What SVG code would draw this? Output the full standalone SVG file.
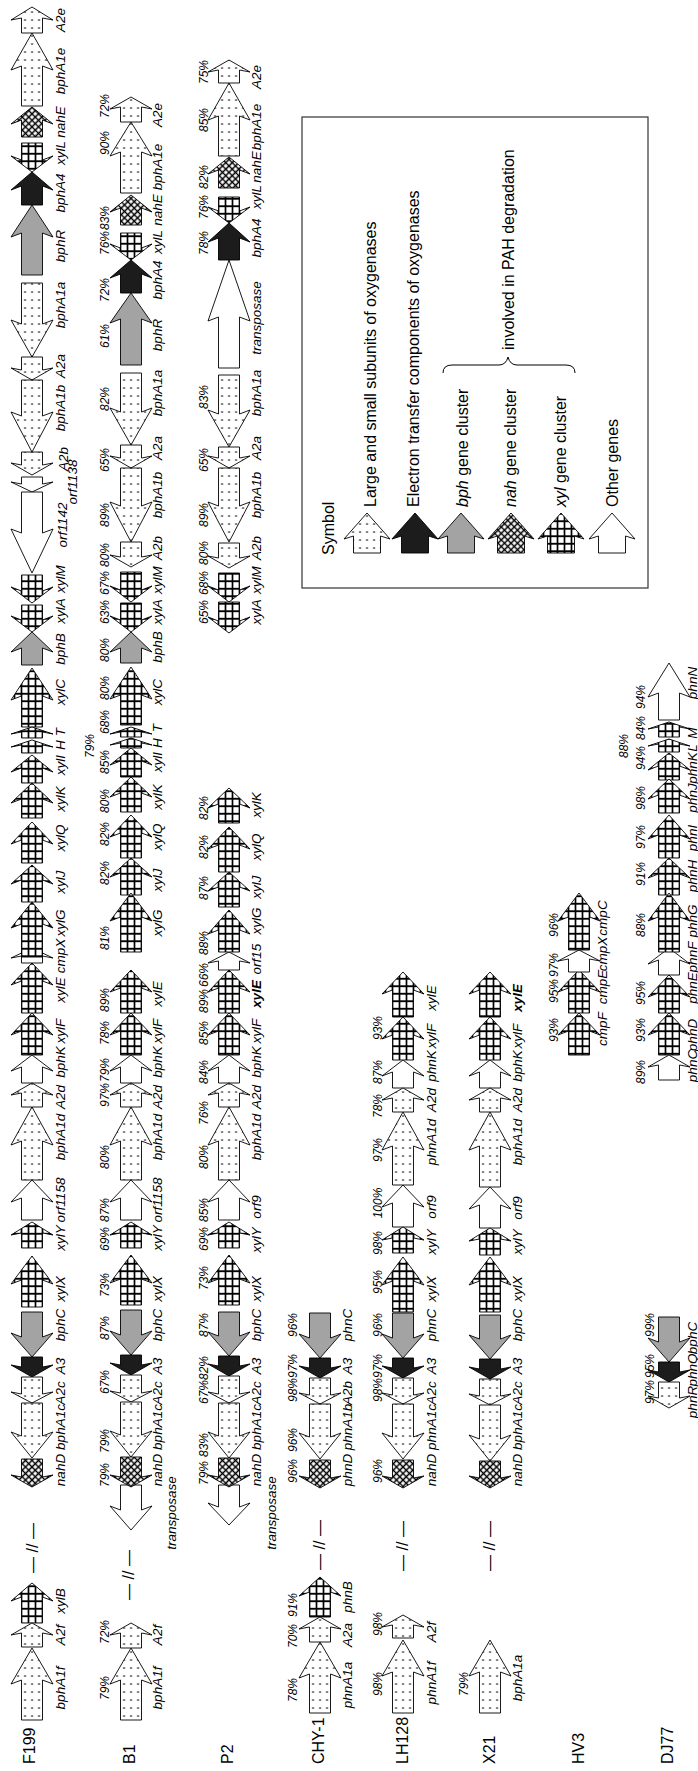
<svg xmlns="http://www.w3.org/2000/svg" width="698" height="1771" viewBox="0 0 698 1771">
<style>
text{font-family:"Liberation Sans",Arial,sans-serif;fill:#000}
.g{font-size:13.5px;font-style:italic;text-anchor:middle}
.b{font-weight:bold}
.p{font-size:12px;font-style:italic;text-anchor:middle}
.s{font-size:16px}
.l{font-size:16px}
.br{font-size:16px;text-anchor:middle}
path.d,path.x,path.n,path.r,path.k,path.w{stroke:#000;stroke-width:0.9;stroke-linejoin:miter}
.d{fill:url(#dots)}.x{fill:url(#grid)}.n{fill:url(#hatch)}.r{fill:#a3a3a3}.k{fill:#1c1c1c}.w{fill:#fff}
</style>
<defs>
<pattern id="dots" patternUnits="userSpaceOnUse" x="-3.5" y="0" width="7" height="8"><rect width="7" height="8" fill="#fff"/><rect x="2.8" y="3.3" width="1.5" height="1.5" fill="#000"/></pattern>
<pattern id="grid" patternUnits="userSpaceOnUse" x="-7" y="0" width="7" height="7.5"><rect width="7" height="7.5" fill="#fff"/><path d="M3.5 0V7.5M0 3.75H7" stroke="#000" stroke-width="1.7"/></pattern>
<pattern id="hatch" patternUnits="userSpaceOnUse" width="4.6" height="4.6" patternTransform="rotate(45)"><rect width="4.6" height="4.6" fill="#fff"/><path d="M2.3 0V4.6M0 2.3H4.6" stroke="#000" stroke-width="1.5"/></pattern>
</defs>
<rect width="698" height="1771" fill="#fff"/>

<g id="F199">
<g transform="translate(32,0)">
<path class="d" d="M-10.5 33V18l-10.5 2L0 7l21 13l-10.5-2V33z"/>
<path class="d" d="M-10.5 106V66l-10.5 4L0 33l21 37l-10.5-4V106z"/>
<path class="n" d="M-10.5 137V120l-10.5 4L0 107l21 17l-10.5-4V137z"/>
<path class="x" d="M-10.5 143V160l-10.5-4L0 172l21-16l-10.5 4V143z"/>
<path class="k" d="M-10.5 205V186l-10.5 4L0 172l21 18l-10.5-4V205z"/>
<path class="r" d="M-10.5 275V233l-10.5 4L0 205l21 32l-10.5-4V275z"/>
<path class="d" d="M-10.5 283V324l-10.5-4L0 357l21-37l-10.5 4V283z"/>
<path class="d" d="M-10.5 357V370l-10.5-2L0 380l21-12l-10.5 2V357z"/>
<path class="d" d="M-10.5 380V416l-10.5-4L0 452l21-40l-10.5 4V380z"/>
<path class="d" d="M-10.5 452V465l-10.5-2L0 475l21-12l-10.5 2V452z"/>
<path class="w" d="M-10.5 477V484l-10.5-2L0 492l21-10l-10.5 2V477z"/>
<path class="w" d="M-10.5 492V533l-10.5-4L0 573l21-44l-10.5 4V492z"/>
<path class="x" d="M-10.5 575V591l-10.5-4L0 603l21-16l-10.5 4V575z"/>
<path class="x" d="M-10.5 605V620l-10.5-4L0 632l21-16l-10.5 4V605z"/>
<path class="r" d="M-10.5 665V648l-10.5 4L0 632l21 20l-10.5-4V665z"/>
<path class="x" d="M-10.5 727V696l-10.5 4L0 668l21 32l-10.5-4V727z"/>
<path class="x" d="M-10.5 738V732l-10.5 2L0 727l21 7l-10.5-2V738z"/>
<path class="x" d="M-10.5 753V745l-10.5 2L0 740l21 7l-10.5-2V753z"/>
<path class="x" d="M-10.5 783V768l-10.5 4L0 755l21 17l-10.5-4V783z"/>
<path class="x" d="M-10.5 818V799l-10.5 4L0 783l21 20l-10.5-4V818z"/>
<path class="x" d="M-10.5 863V840l-10.5 4L0 822l21 22l-10.5-4V863z"/>
<path class="x" d="M-10.5 902V880l-10.5 4L0 865l21 19l-10.5-4V902z"/>
<path class="w" d="M-10.5 963V956l-10.5 2L0 948l21 10l-10.5-2V963z"/>
<path class="x" d="M-10.5 957V924l-10.5 4L0 902l21 26l-10.5-4V957z"/>
<path class="x" d="M-10.5 1013V981l-10.5 4L0 963l21 22l-10.5-4V1013z"/>
<path class="x" d="M-10.5 1055V1031l-10.5 4L0 1013l21 22l-10.5-4V1055z"/>
<path class="w" d="M-10.5 1083V1067l-10.5 4L0 1055l21 16l-10.5-4V1083z"/>
<path class="d" d="M-10.5 1107V1093l-10.5 2L0 1083l21 12l-10.5-2V1107z"/>
<path class="d" d="M-10.5 1180V1141l-10.5 4L0 1107l21 38l-10.5-4V1180z"/>
<path class="w" d="M-10.5 1220V1198l-10.5 4L0 1180l21 22l-10.5-4V1220z"/>
<path class="x" d="M-10.5 1248V1233l-10.5 2L0 1222l21 13l-10.5-2V1248z"/>
<path class="x" d="M-10.5 1307V1280l-10.5 4L0 1256l21 28l-10.5-4V1307z"/>
<path class="r" d="M-10.5 1312V1337l-10.5-4L0 1357l21-24l-10.5 4V1312z"/>
<path class="k" d="M-10.5 1357V1367l-10.5-2L0 1377l21-12l-10.5 2V1357z"/>
<path class="d" d="M-10.5 1377V1394l-10.5-2L0 1403l21-11l-10.5 2V1377z"/>
<path class="d" d="M-10.5 1403V1436l-10.5-4L0 1458l21-26l-10.5 4V1403z"/>
<path class="n" d="M-10.5 1459V1477l-10.5-2L0 1487l21-12l-10.5 2V1459z"/>
<path class="x" d="M-10.5 1623V1597l-10.5 4L0 1583l21 18l-10.5-4V1623z"/>
<path class="d" d="M-10.5 1647V1633l-10.5 2L0 1623l21 12l-10.5-2V1647z"/>
<path class="d" d="M-10.5 1720V1680l-10.5 4L0 1648l21 36l-10.5-4V1720z"/>
</g>
<g transform="rotate(-90)">
<text class="s" x="-1764" y="34.7">F199</text>
<text class="br" x="-1548" y="38">— // —</text>
<text class="g" x="-20" y="64.7">A2e</text>
<text class="g" x="-71" y="64.7">bphA1e</text>
<text class="g" x="-122" y="64.7">nahE</text>
<text class="g" x="-153" y="64.7">xylL</text>
<text class="g" x="-193" y="64.7">bphA4</text>
<text class="g" x="-246" y="64.7">bphR</text>
<text class="g" x="-305" y="64.7">bphA1a</text>
<text class="g" x="-366" y="64.7">A2a</text>
<text class="g" x="-408" y="64.7">bphA1b</text>
<text class="g" x="-459" y="67.7">A2b</text>
<text class="g" x="-482" y="76.7">orf1138</text>
<text class="g" x="-525" y="66.7">orf1142</text>
<text class="g" x="-579" y="64.7">xylM</text>
<text class="g" x="-611" y="64.7">xylA</text>
<text class="g" x="-649" y="64.7">bphB</text>
<text class="g" x="-692" y="64.7">xylC</text>
<text class="g" x="-732" y="64.7">T</text>
<text class="g" x="-745" y="64.7">H</text>
<text class="g" x="-765" y="64.7">xylI</text>
<text class="g" x="-799" y="64.7">xylK</text>
<text class="g" x="-838" y="64.7">xylQ</text>
<text class="g" x="-882" y="64.7">xylJ</text>
<text class="g" x="-923" y="64.7">xylG</text>
<text class="g" x="-956" y="64.7">cmpX</text>
<text class="g" x="-990" y="64.7">xylE</text>
<text class="g" x="-1031" y="64.7">xylF</text>
<text class="g" x="-1062" y="64.7">bphK</text>
<text class="g" x="-1097" y="64.7">A2d</text>
<text class="g" x="-1137" y="64.7">bphA1d</text>
<text class="g" x="-1200" y="64.7">orf1158</text>
<text class="g" x="-1238" y="64.7">xylY</text>
<text class="g" x="-1289" y="64.7">xylX</text>
<text class="g" x="-1325" y="64.7">bphC</text>
<text class="g" x="-1366" y="64.7">A3</text>
<text class="g" x="-1393" y="64.7">A2c</text>
<text class="g" x="-1427" y="64.7">bphA1c</text>
<text class="g" x="-1470" y="64.7">nahD</text>
<text class="g" x="-1601" y="64.7">xylB</text>
<text class="g" x="-1635" y="64.7">A2f</text>
<text class="g" x="-1688" y="64.7">bphA1f</text>
</g>
</g>

<g id="B1">
<g transform="translate(131,0)">
<path class="d" d="M-10.5 122V107l-10.5 2L0 97l21 12l-10.5-2V122z"/>
<path class="d" d="M-10.5 193V152l-10.5 4L0 122l21 34l-10.5-4V193z"/>
<path class="n" d="M-10.5 225V208l-10.5 4L0 195l21 17l-10.5-4V225z"/>
<path class="x" d="M-10.5 233V248l-10.5-4L0 260l21-16l-10.5 4V233z"/>
<path class="k" d="M-10.5 293V274l-10.5 4L0 260l21 18l-10.5-4V293z"/>
<path class="r" d="M-10.5 365V319l-10.5 4L0 293l21 30l-10.5-4V365z"/>
<path class="d" d="M-10.5 373V412l-10.5-4L0 445l21-37l-10.5 4V373z"/>
<path class="d" d="M-10.5 445V458l-10.5-2L0 468l21-12l-10.5 2V445z"/>
<path class="d" d="M-10.5 468V506l-10.5-4L0 542l21-40l-10.5 4V468z"/>
<path class="d" d="M-10.5 542V557l-10.5-2L0 567l21-12l-10.5 2V542z"/>
<path class="x" d="M-10.5 572V590l-10.5-4L0 602l21-16l-10.5 4V572z"/>
<path class="x" d="M-10.5 603V620l-10.5-4L0 632l21-16l-10.5 4V603z"/>
<path class="r" d="M-10.5 663V648l-10.5 4L0 632l21 20l-10.5-4V663z"/>
<path class="x" d="M-10.5 725V695l-10.5 4L0 667l21 32l-10.5-4V725z"/>
<path class="x" d="M-10.5 737V732l-10.5 2L0 727l21 7l-10.5-2V737z"/>
<path class="x" d="M-10.5 748V743l-10.5 2L0 738l21 7l-10.5-2V748z"/>
<path class="x" d="M-10.5 777V761l-10.5 4L0 748l21 17l-10.5-4V777z"/>
<path class="x" d="M-10.5 812V793l-10.5 4L0 777l21 20l-10.5-4V812z"/>
<path class="x" d="M-10.5 858V833l-10.5 4L0 815l21 22l-10.5-4V858z"/>
<path class="x" d="M-10.5 895V873l-10.5 4L0 858l21 19l-10.5-4V895z"/>
<path class="x" d="M-10.5 952V917l-10.5 4L0 893l21 28l-10.5-4V952z"/>
<path class="x" d="M-10.5 1013V988l-10.5 4L0 970l21 22l-10.5-4V1013z"/>
<path class="x" d="M-10.5 1055V1031l-10.5 4L0 1013l21 22l-10.5-4V1055z"/>
<path class="w" d="M-10.5 1083V1067l-10.5 4L0 1055l21 16l-10.5-4V1083z"/>
<path class="d" d="M-10.5 1107V1093l-10.5 2L0 1083l21 12l-10.5-2V1107z"/>
<path class="d" d="M-10.5 1180V1141l-10.5 4L0 1107l21 38l-10.5-4V1180z"/>
<path class="w" d="M-10.5 1220V1198l-10.5 4L0 1180l21 22l-10.5-4V1220z"/>
<path class="x" d="M-10.5 1248V1233l-10.5 2L0 1222l21 13l-10.5-2V1248z"/>
<path class="x" d="M-10.5 1305V1279l-10.5 4L0 1255l21 28l-10.5-4V1305z"/>
<path class="r" d="M-10.5 1310V1335l-10.5-4L0 1355l21-24l-10.5 4V1310z"/>
<path class="k" d="M-10.5 1355V1365l-10.5-2L0 1375l21-12l-10.5 2V1355z"/>
<path class="d" d="M-10.5 1375V1393l-10.5-2L0 1402l21-11l-10.5 2V1375z"/>
<path class="d" d="M-10.5 1402V1435l-10.5-4L0 1457l21-26l-10.5 4V1402z"/>
<path class="w" d="M-10.5 1485V1510l-10.5-4L0 1530l21-24l-10.5 4V1485z"/>
<path class="n" d="M-10.5 1457V1477l-10.5-2L0 1487l21-12l-10.5 2V1457z"/>
<path class="d" d="M-10.5 1648V1633l-10.5 2L0 1623l21 12l-10.5-2V1648z"/>
<path class="d" d="M-10.5 1720V1680l-10.5 4L0 1648l21 36l-10.5-4V1720z"/>
</g>
<g transform="rotate(-90)">
<text class="s" x="-1764" y="134.7">B1</text>
<text class="br" x="-1575" y="134">— // —</text>
<text class="g" x="-115" y="161.7">A2e</text>
<text class="g" x="-167" y="161.7">bphA1e</text>
<text class="g" x="-210" y="161.7">nahE</text>
<text class="g" x="-242" y="161.7">xylL</text>
<text class="g" x="-280" y="161.7">bphA4</text>
<text class="g" x="-335" y="161.7">bphR</text>
<text class="g" x="-393" y="161.7">bphA1a</text>
<text class="g" x="-448" y="161.7">A2a</text>
<text class="g" x="-495" y="161.7">bphA1b</text>
<text class="g" x="-548" y="161.7">A2b</text>
<text class="g" x="-580" y="161.7">xylM</text>
<text class="g" x="-612" y="161.7">xylA</text>
<text class="g" x="-647" y="161.7">bphB</text>
<text class="g" x="-692" y="161.7">xylC</text>
<text class="g" x="-728" y="161.7">T</text>
<text class="g" x="-743" y="161.7">H</text>
<text class="g" x="-762" y="161.7">xylI</text>
<text class="g" x="-797" y="161.7">xylK</text>
<text class="g" x="-837" y="161.7">xylQ</text>
<text class="g" x="-880" y="161.7">xylJ</text>
<text class="g" x="-923" y="161.7">xylG</text>
<text class="g" x="-994" y="161.7">xylE</text>
<text class="g" x="-1031" y="161.7">xylF</text>
<text class="g" x="-1062" y="161.7">bphK</text>
<text class="g" x="-1097" y="161.7">A2d</text>
<text class="g" x="-1137" y="161.7">bphA1d</text>
<text class="g" x="-1200" y="161.7">orf1158</text>
<text class="g" x="-1238" y="161.7">xylY</text>
<text class="g" x="-1289" y="161.7">xylX</text>
<text class="g" x="-1325" y="161.7">bphC</text>
<text class="g" x="-1366" y="161.7">A3</text>
<text class="g" x="-1393" y="161.7">A2c</text>
<text class="g" x="-1427" y="161.7">bphA1c</text>
<text class="g" x="-1470" y="161.7">nahD</text>
<text class="g" x="-1513" y="175.7">transposase</text>
<text class="g" x="-1635" y="161.7">A2f</text>
<text class="g" x="-1688" y="161.7">bphA1f</text>
<text class="p" x="-106" y="109.3">72%</text>
<text class="p" x="-143" y="109.3">90%</text>
<text class="p" x="-218" y="109.3">83%</text>
<text class="p" x="-243" y="109.3">76%</text>
<text class="p" x="-290" y="109.3">72%</text>
<text class="p" x="-336" y="109.3">61%</text>
<text class="p" x="-399" y="109.3">82%</text>
<text class="p" x="-460" y="109.3">65%</text>
<text class="p" x="-515" y="109.3">89%</text>
<text class="p" x="-555" y="109.3">80%</text>
<text class="p" x="-583" y="109.3">67%</text>
<text class="p" x="-612" y="109.3">63%</text>
<text class="p" x="-650" y="109.3">80%</text>
<text class="p" x="-688" y="109.3">80%</text>
<text class="p" x="-722" y="109.3">68%</text>
<text class="p" x="-746" y="94.3">79%</text>
<text class="p" x="-762" y="109.3">85%</text>
<text class="p" x="-801" y="109.3">80%</text>
<text class="p" x="-834" y="109.3">82%</text>
<text class="p" x="-873" y="109.3">82%</text>
<text class="p" x="-938" y="109.3">81%</text>
<text class="p" x="-1000" y="109.3">89%</text>
<text class="p" x="-1033" y="109.3">78%</text>
<text class="p" x="-1070" y="109.3">79%</text>
<text class="p" x="-1095" y="109.3">97%</text>
<text class="p" x="-1157" y="109.3">80%</text>
<text class="p" x="-1210" y="109.3">87%</text>
<text class="p" x="-1239" y="109.3">69%</text>
<text class="p" x="-1285" y="109.3">73%</text>
<text class="p" x="-1328" y="109.3">87%</text>
<text class="p" x="-1382" y="109.3">67%</text>
<text class="p" x="-1441" y="109.3">79%</text>
<text class="p" x="-1475" y="109.3">79%</text>
<text class="p" x="-1632" y="109.3">72%</text>
<text class="p" x="-1688" y="109.3">79%</text>
</g>
</g>

<g id="P2">
<g transform="translate(229,0)">
<path class="d" d="M-10.5 83V70l-10.5 2L0 60l21 12l-10.5-2V83z"/>
<path class="d" d="M-10.5 156V116l-10.5 4L0 83l21 37l-10.5-4V156z"/>
<path class="n" d="M-10.5 188V170l-10.5 4L0 157l21 17l-10.5-4V188z"/>
<path class="x" d="M-10.5 197V211l-10.5-4L0 223l21-16l-10.5 4V197z"/>
<path class="k" d="M-10.5 260V238l-10.5 4L0 223l21 19l-10.5-4V260z"/>
<path class="w" d="M-10.5 368V317l-10.5 4L0 260l21 61l-10.5-4V368z"/>
<path class="d" d="M-10.5 375V414l-10.5-4L0 447l21-37l-10.5 4V375z"/>
<path class="d" d="M-10.5 447V458l-10.5-2L0 468l21-12l-10.5 2V447z"/>
<path class="d" d="M-10.5 468V506l-10.5-4L0 542l21-40l-10.5 4V468z"/>
<path class="d" d="M-10.5 543V558l-10.5-2L0 568l21-12l-10.5 2V543z"/>
<path class="x" d="M-10.5 573V590l-10.5-4L0 602l21-16l-10.5 4V573z"/>
<path class="x" d="M-10.5 602V621l-10.5-4L0 633l21-16l-10.5 4V602z"/>
<path class="x" d="M-10.5 823V804l-10.5 4L0 788l21 20l-10.5-4V823z"/>
<path class="x" d="M-10.5 872V845l-10.5 4L0 827l21 22l-10.5-4V872z"/>
<path class="x" d="M-10.5 907V887l-10.5 4L0 872l21 19l-10.5-4V907z"/>
<path class="w" d="M-10.5 970V961l-10.5 2L0 952l21 11l-10.5-2V970z"/>
<path class="x" d="M-10.5 952V930l-10.5 4L0 910l21 24l-10.5-4V952z"/>
<path class="x" d="M-10.5 1013V988l-10.5 4L0 970l21 22l-10.5-4V1013z"/>
<path class="x" d="M-10.5 1055V1031l-10.5 4L0 1013l21 22l-10.5-4V1055z"/>
<path class="w" d="M-10.5 1083V1067l-10.5 4L0 1055l21 16l-10.5-4V1083z"/>
<path class="d" d="M-10.5 1107V1093l-10.5 2L0 1083l21 12l-10.5-2V1107z"/>
<path class="d" d="M-10.5 1180V1141l-10.5 4L0 1107l21 38l-10.5-4V1180z"/>
<path class="w" d="M-10.5 1220V1198l-10.5 4L0 1180l21 22l-10.5-4V1220z"/>
<path class="x" d="M-10.5 1248V1233l-10.5 2L0 1222l21 13l-10.5-2V1248z"/>
<path class="x" d="M-10.5 1305V1279l-10.5 4L0 1255l21 28l-10.5-4V1305z"/>
<path class="r" d="M-10.5 1312V1336l-10.5-4L0 1356l21-24l-10.5 4V1312z"/>
<path class="k" d="M-10.5 1356V1366l-10.5-2L0 1376l21-12l-10.5 2V1356z"/>
<path class="d" d="M-10.5 1376V1394l-10.5-2L0 1403l21-11l-10.5 2V1376z"/>
<path class="d" d="M-10.5 1403V1436l-10.5-4L0 1458l21-26l-10.5 4V1403z"/>
<path class="w" d="M-10.5 1485V1507l-10.5-4L0 1525l21-22l-10.5 4V1485z"/>
<path class="n" d="M-10.5 1458V1477l-10.5-2L0 1487l21-12l-10.5 2V1458z"/>
</g>
<g transform="rotate(-90)">
<text class="s" x="-1764" y="232.7">P2</text>
<text class="g" x="-77" y="260.7">A2e</text>
<text class="g" x="-127" y="260.7">bphA1e</text>
<text class="g" x="-167" y="260.7">nahE</text>
<text class="g" x="-197" y="260.7">xylL</text>
<text class="g" x="-238" y="260.7">bphA4</text>
<text class="g" x="-318" y="260.7">transposase</text>
<text class="g" x="-393" y="260.7">bphA1a</text>
<text class="g" x="-448" y="260.7">A2a</text>
<text class="g" x="-495" y="260.7">bphA1b</text>
<text class="g" x="-548" y="260.7">A2b</text>
<text class="g" x="-580" y="260.7">xylM</text>
<text class="g" x="-612" y="260.7">xylA</text>
<text class="g" x="-805" y="260.7">xylK</text>
<text class="g" x="-847" y="260.7">xylQ</text>
<text class="g" x="-887" y="260.7">xylJ</text>
<text class="g" x="-921" y="260.7">xylG</text>
<text class="g" x="-959" y="260.7">orf15</text>
<text class="g b" x="-994" y="260.7">xylE</text>
<text class="g" x="-1031" y="260.7">xylF</text>
<text class="g" x="-1062" y="260.7">bphK</text>
<text class="g" x="-1097" y="260.7">A2d</text>
<text class="g" x="-1137" y="260.7">bphA1d</text>
<text class="g" x="-1207" y="260.7">orf9</text>
<text class="g" x="-1240" y="260.7">xylY</text>
<text class="g" x="-1289" y="260.7">xylX</text>
<text class="g" x="-1325" y="260.7">bphC</text>
<text class="g" x="-1366" y="260.7">A3</text>
<text class="g" x="-1393" y="260.7">A2c</text>
<text class="g" x="-1427" y="260.7">bphA1c</text>
<text class="g" x="-1470" y="260.7">nahD</text>
<text class="g" x="-1513" y="275.7">transposase</text>
<text class="p" x="-72" y="208.3">75%</text>
<text class="p" x="-120" y="208.3">85%</text>
<text class="p" x="-177" y="208.3">82%</text>
<text class="p" x="-207" y="208.3">76%</text>
<text class="p" x="-243" y="208.3">78%</text>
<text class="p" x="-397" y="208.3">83%</text>
<text class="p" x="-460" y="208.3">65%</text>
<text class="p" x="-515" y="208.3">89%</text>
<text class="p" x="-553" y="208.3">80%</text>
<text class="p" x="-583" y="208.3">68%</text>
<text class="p" x="-612" y="208.3">65%</text>
<text class="p" x="-808" y="208.3">82%</text>
<text class="p" x="-847" y="208.3">82%</text>
<text class="p" x="-888" y="208.3">87%</text>
<text class="p" x="-943" y="208.3">88%</text>
<text class="p" x="-975" y="208.3">66%</text>
<text class="p" x="-1001" y="208.3">89%</text>
<text class="p" x="-1033" y="208.3">85%</text>
<text class="p" x="-1072" y="208.3">84%</text>
<text class="p" x="-1113" y="208.3">76%</text>
<text class="p" x="-1157" y="208.3">80%</text>
<text class="p" x="-1210" y="208.3">85%</text>
<text class="p" x="-1239" y="208.3">69%</text>
<text class="p" x="-1278" y="208.3">73%</text>
<text class="p" x="-1325" y="208.3">87%</text>
<text class="p" x="-1368" y="208.3">82%</text>
<text class="p" x="-1392" y="208.3">67%</text>
<text class="p" x="-1445" y="208.3">83%</text>
<text class="p" x="-1473" y="208.3">79%</text>
</g>
</g>

<g id="CHY-1">
<g transform="translate(320,0)">
<path class="r" d="M-10.5 1313V1338l-10.5-4L0 1358l21-24l-10.5 4V1313z"/>
<path class="k" d="M-10.5 1358V1368l-10.5-2L0 1378l21-12l-10.5 2V1358z"/>
<path class="d" d="M-10.5 1378V1395l-10.5-2L0 1404l21-11l-10.5 2V1378z"/>
<path class="d" d="M-10.5 1404V1437l-10.5-4L0 1459l21-26l-10.5 4V1404z"/>
<path class="n" d="M-10.5 1460V1478l-10.5-2L0 1488l21-12l-10.5 2V1460z"/>
<path class="x" d="M-10.5 1617V1592l-10.5 4L0 1577l21 19l-10.5-4V1617z"/>
<path class="d" d="M-10.5 1642V1627l-10.5 2L0 1617l21 12l-10.5-2V1642z"/>
<path class="d" d="M-10.5 1713V1674l-10.5 4L0 1642l21 36l-10.5-4V1713z"/>
</g>
<g transform="rotate(-90)">
<text class="s" x="-1764" y="323.7">CHY-1</text>
<text class="br" x="-1545" y="325">— // —</text>
<text class="g" x="-1325" y="351.7">phnC</text>
<text class="g" x="-1366" y="351.7">A3</text>
<text class="g" x="-1393" y="351.7">A2b</text>
<text class="g" x="-1427" y="351.7">phnA1b</text>
<text class="g" x="-1470" y="351.7">phnD</text>
<text class="g" x="-1597" y="351.7">phnB</text>
<text class="g" x="-1635" y="351.7">A2a</text>
<text class="g" x="-1685" y="351.7">phnA1a</text>
<text class="p" x="-1325" y="297.3">96%</text>
<text class="p" x="-1366" y="297.3">97%</text>
<text class="p" x="-1390" y="297.3">98%</text>
<text class="p" x="-1440" y="297.3">96%</text>
<text class="p" x="-1471" y="297.3">96%</text>
<text class="p" x="-1605" y="297.3">91%</text>
<text class="p" x="-1636" y="297.3">70%</text>
<text class="p" x="-1690" y="297.3">78%</text>
</g>
</g>

<g id="LH128">
<g transform="translate(403,0)">
<path class="x" d="M-10.5 1017V990l-10.5 4L0 972l21 22l-10.5-4V1017z"/>
<path class="x" d="M-10.5 1060V1035l-10.5 4L0 1017l21 22l-10.5-4V1060z"/>
<path class="w" d="M-10.5 1088V1072l-10.5 4L0 1060l21 16l-10.5-4V1088z"/>
<path class="d" d="M-10.5 1112V1098l-10.5 2L0 1088l21 12l-10.5-2V1112z"/>
<path class="d" d="M-10.5 1185V1146l-10.5 4L0 1112l21 38l-10.5-4V1185z"/>
<path class="w" d="M-10.5 1227V1203l-10.5 4L0 1185l21 22l-10.5-4V1227z"/>
<path class="x" d="M-10.5 1253V1238l-10.5 2L0 1227l21 13l-10.5-2V1253z"/>
<path class="x" d="M-10.5 1312V1281l-10.5 4L0 1257l21 28l-10.5-4V1312z"/>
<path class="r" d="M-10.5 1313V1338l-10.5-4L0 1358l21-24l-10.5 4V1313z"/>
<path class="k" d="M-10.5 1358V1368l-10.5-2L0 1378l21-12l-10.5 2V1358z"/>
<path class="d" d="M-10.5 1378V1395l-10.5-2L0 1404l21-11l-10.5 2V1378z"/>
<path class="d" d="M-10.5 1404V1437l-10.5-4L0 1459l21-26l-10.5 4V1404z"/>
<path class="n" d="M-10.5 1460V1478l-10.5-2L0 1488l21-12l-10.5 2V1460z"/>
<path class="d" d="M-10.5 1638V1625l-10.5 2L0 1615l21 12l-10.5-2V1638z"/>
<path class="d" d="M-10.5 1713V1672l-10.5 4L0 1640l21 36l-10.5-4V1713z"/>
</g>
<g transform="rotate(-90)">
<text class="s" x="-1764" y="407.7">LH128</text>
<text class="br" x="-1546" y="408">— // —</text>
<text class="g" x="-998" y="435.7">xylE</text>
<text class="g" x="-1036" y="435.7">xylF</text>
<text class="g" x="-1066" y="435.7">phnK</text>
<text class="g" x="-1100" y="435.7">A2d</text>
<text class="g" x="-1142" y="435.7">phnA1d</text>
<text class="g" x="-1207" y="435.7">orf9</text>
<text class="g" x="-1242" y="435.7">xylY</text>
<text class="g" x="-1289" y="435.7">xylX</text>
<text class="g" x="-1325" y="435.7">phnC</text>
<text class="g" x="-1366" y="435.7">A3</text>
<text class="g" x="-1393" y="435.7">A2c</text>
<text class="g" x="-1427" y="435.7">phnA1c</text>
<text class="g" x="-1470" y="435.7">nahD</text>
<text class="g" x="-1632" y="435.7">A2f</text>
<text class="g" x="-1683" y="435.7">phnA1f</text>
<text class="p" x="-1028" y="382.3">93%</text>
<text class="p" x="-1072" y="382.3">87%</text>
<text class="p" x="-1106" y="382.3">78%</text>
<text class="p" x="-1150" y="382.3">97%</text>
<text class="p" x="-1203" y="382.3">100%</text>
<text class="p" x="-1243" y="382.3">98%</text>
<text class="p" x="-1282" y="382.3">95%</text>
<text class="p" x="-1325" y="382.3">96%</text>
<text class="p" x="-1366" y="382.3">97%</text>
<text class="p" x="-1390" y="382.3">98%</text>
<text class="p" x="-1471" y="382.3">96%</text>
<text class="p" x="-1624" y="382.3">98%</text>
<text class="p" x="-1684" y="382.3">98%</text>
</g>
</g>

<g id="X21">
<g transform="translate(490,0)">
<path class="x" d="M-10.5 1017V990l-10.5 4L0 972l21 22l-10.5-4V1017z"/>
<path class="x" d="M-10.5 1060V1035l-10.5 4L0 1017l21 22l-10.5-4V1060z"/>
<path class="w" d="M-10.5 1088V1072l-10.5 4L0 1060l21 16l-10.5-4V1088z"/>
<path class="d" d="M-10.5 1112V1098l-10.5 2L0 1088l21 12l-10.5-2V1112z"/>
<path class="d" d="M-10.5 1187V1146l-10.5 4L0 1112l21 38l-10.5-4V1187z"/>
<path class="w" d="M-10.5 1228V1205l-10.5 4L0 1187l21 22l-10.5-4V1228z"/>
<path class="x" d="M-10.5 1255V1239l-10.5 2L0 1228l21 13l-10.5-2V1255z"/>
<path class="x" d="M-10.5 1312V1281l-10.5 4L0 1257l21 28l-10.5-4V1312z"/>
<path class="r" d="M-10.5 1315V1339l-10.5-4L0 1359l21-24l-10.5 4V1315z"/>
<path class="k" d="M-10.5 1359V1369l-10.5-2L0 1379l21-12l-10.5 2V1359z"/>
<path class="d" d="M-10.5 1379V1396l-10.5-2L0 1405l21-11l-10.5 2V1379z"/>
<path class="d" d="M-10.5 1405V1439l-10.5-4L0 1461l21-26l-10.5 4V1405z"/>
<path class="n" d="M-10.5 1461V1478l-10.5-2L0 1488l21-12l-10.5 2V1461z"/>
<path class="d" d="M-10.5 1713V1672l-10.5 4L0 1640l21 36l-10.5-4V1713z"/>
</g>
<g transform="rotate(-90)">
<text class="s" x="-1764" y="494.7">X21</text>
<text class="br" x="-1546" y="495">— // —</text>
<text class="g b" x="-998" y="521.7">xylE</text>
<text class="g" x="-1036" y="521.7">xylF</text>
<text class="g" x="-1066" y="521.7">bphK</text>
<text class="g" x="-1100" y="521.7">A2d</text>
<text class="g" x="-1142" y="521.7">bphA1d</text>
<text class="g" x="-1208" y="521.7">orf9</text>
<text class="g" x="-1242" y="521.7">xylY</text>
<text class="g" x="-1289" y="521.7">xylX</text>
<text class="g" x="-1325" y="521.7">bphC</text>
<text class="g" x="-1366" y="521.7">A3</text>
<text class="g" x="-1393" y="521.7">A2c</text>
<text class="g" x="-1427" y="521.7">bphA1c</text>
<text class="g" x="-1470" y="521.7">nahD</text>
<text class="g" x="-1678" y="521.7">bphA1a</text>
<text class="p" x="-1684" y="468.3">79%</text>
</g>
</g>

<g id="HV3">
<g transform="translate(579,0)">
<path class="x" d="M-10.5 1013V988l-10.5 4L0 970l21 22l-10.5-4V1013z"/>
<path class="x" d="M-10.5 1055V1031l-10.5 4L0 1013l21 22l-10.5-4V1055z"/>
<path class="w" d="M-10.5 972V959l-10.5 2L0 950l21 11l-10.5-2V972z"/>
<path class="x" d="M-10.5 950V917l-10.5 4L0 893l21 28l-10.5-4V950z"/>
</g>
<g transform="rotate(-90)">
<text class="s" x="-1764" y="583.7">HV3</text>
<text class="g" x="-918" y="606.7">cmpC</text>
<text class="g" x="-954" y="606.7">cmpX</text>
<text class="g" x="-987" y="606.7">cmpE</text>
<text class="g" x="-1029" y="606.7">cmpF</text>
<text class="p" x="-925" y="558.3">96%</text>
<text class="p" x="-965" y="558.3">97%</text>
<text class="p" x="-991" y="558.3">95%</text>
<text class="p" x="-1030" y="558.3">93%</text>
</g>
</g>

<g id="DJ77">
<g transform="translate(669,0)">
<path class="w" d="M-10.5 720V693l-10.5 4L0 663l21 34l-10.5-4V720z"/>
<path class="x" d="M-10.5 737V727l-10.5 2L0 722l21 7l-10.5-2V737z"/>
<path class="x" d="M-10.5 752V744l-10.5 2L0 739l21 7l-10.5-2V752z"/>
<path class="x" d="M-10.5 780V766l-10.5 4L0 753l21 17l-10.5-4V780z"/>
<path class="x" d="M-10.5 813V795l-10.5 4L0 779l21 20l-10.5-4V813z"/>
<path class="x" d="M-10.5 858V835l-10.5 4L0 815l21 24l-10.5-4V858z"/>
<path class="x" d="M-10.5 895V874l-10.5 4L0 858l21 20l-10.5-4V895z"/>
<path class="x" d="M-10.5 1013V993l-10.5 4L0 975l21 22l-10.5-4V1013z"/>
<path class="w" d="M-10.5 975V960l-10.5 4L0 948l21 16l-10.5-4V975z"/>
<path class="x" d="M-10.5 952V917l-10.5 4L0 893l21 28l-10.5-4V952z"/>
<path class="x" d="M-10.5 1055V1031l-10.5 4L0 1013l21 22l-10.5-4V1055z"/>
<path class="w" d="M-10.5 1080V1065l-10.5 2L0 1055l21 12l-10.5-2V1080z"/>
<path class="r" d="M-10.5 1317V1342l-10.5-4L0 1362l21-24l-10.5 4V1317z"/>
<path class="k" d="M-10.5 1362V1372l-10.5-2L0 1382l21-12l-10.5 2V1362z"/>
<path class="d" d="M-10.5 1382V1398l-10.5-2L0 1408l21-12l-10.5 2V1382z"/>
</g>
<g transform="rotate(-90)">
<text class="s" x="-1764" y="672.7">DJ77</text>
<text class="g" x="-683" y="696.7">phnN</text>
<text class="g" x="-733" y="696.7">M</text>
<text class="g" x="-748" y="696.7">L</text>
<text class="g" x="-768" y="696.7">phnK</text>
<text class="g" x="-798" y="696.7">phnJ</text>
<text class="g" x="-838" y="696.7">phnI</text>
<text class="g" x="-876" y="696.7">phnH</text>
<text class="g" x="-921" y="696.7">phnG</text>
<text class="g" x="-957" y="696.7">phnF</text>
<text class="g" x="-988" y="696.7">phnE</text>
<text class="g" x="-1035" y="696.7">phnD</text>
<text class="g" x="-1066" y="696.7">phnC</text>
<text class="g" x="-1338" y="696.7">bphC</text>
<text class="g" x="-1370" y="696.7">phnQ</text>
<text class="g" x="-1402" y="696.7">phnR</text>
<text class="p" x="-697" y="645.3">94%</text>
<text class="p" x="-728" y="645.3">84%</text>
<text class="p" x="-746" y="628.3">88%</text>
<text class="p" x="-758" y="645.3">94%</text>
<text class="p" x="-798" y="645.3">98%</text>
<text class="p" x="-837" y="645.3">97%</text>
<text class="p" x="-874" y="645.3">91%</text>
<text class="p" x="-925" y="645.3">88%</text>
<text class="p" x="-993" y="645.3">95%</text>
<text class="p" x="-1030" y="645.3">93%</text>
<text class="p" x="-1072" y="645.3">89%</text>
<text class="p" x="-1325" y="654.3">99%</text>
<text class="p" x="-1366" y="654.3">95%</text>
<text class="p" x="-1392" y="654.3">97%</text>
</g>
</g>

<g id="legend">
<rect x="302" y="117" width="346" height="471" fill="none" stroke="#333" stroke-width="1.2"/>
<g transform="translate(367,0)"><path class="d" d="M-13.5 553V536l-9.5 3L0 513l23 26l-9.5-3V553z"/></g>
<g transform="translate(415,0)"><path class="k" d="M-13.5 553V536l-9.5 3L0 513l23 26l-9.5-3V553z"/></g>
<g transform="translate(461,0)"><path class="r" d="M-13.5 553V536l-9.5 3L0 513l23 26l-9.5-3V553z"/></g>
<g transform="translate(511,0)"><path class="n" d="M-13.5 553V536l-9.5 3L0 513l23 26l-9.5-3V553z"/></g>
<g transform="translate(561,0)"><path class="x" d="M-13.5 553V536l-9.5 3L0 513l23 26l-9.5-3V553z"/></g>
<g transform="translate(612,0)"><path class="w" d="M-13.5 553V536l-9.5 3L0 513l23 26l-9.5-3V553z"/></g>
<path d="M443 373Q443 365 452 365H499Q506 365 508 357Q510 365 517 365H566Q575 365 575 373" fill="none" stroke="#000" stroke-width="1"/>
<g transform="rotate(-90)">
<text class="l" x="-555" y="333.5">Symbol</text>
<text class="l" x="-507" y="375.5">Large and small subunits of oxygenases</text>
<text class="l" x="-507" y="418.5">Electron transfer components of oxygenases</text>
<text class="l" x="-507" y="467.5"><tspan font-style="italic">bph</tspan> gene cluster</text>
<text class="l" x="-507" y="515.5"><tspan font-style="italic">nah</tspan> gene cluster</text>
<text class="l" x="-507" y="565.5"><tspan font-style="italic">xyl</tspan> gene cluster</text>
<text class="l" x="-507" y="617.5">Other genes</text>
<text class="l" x="-350" y="513.5">involved in PAH degradation</text>
</g>
</g>
</svg>
